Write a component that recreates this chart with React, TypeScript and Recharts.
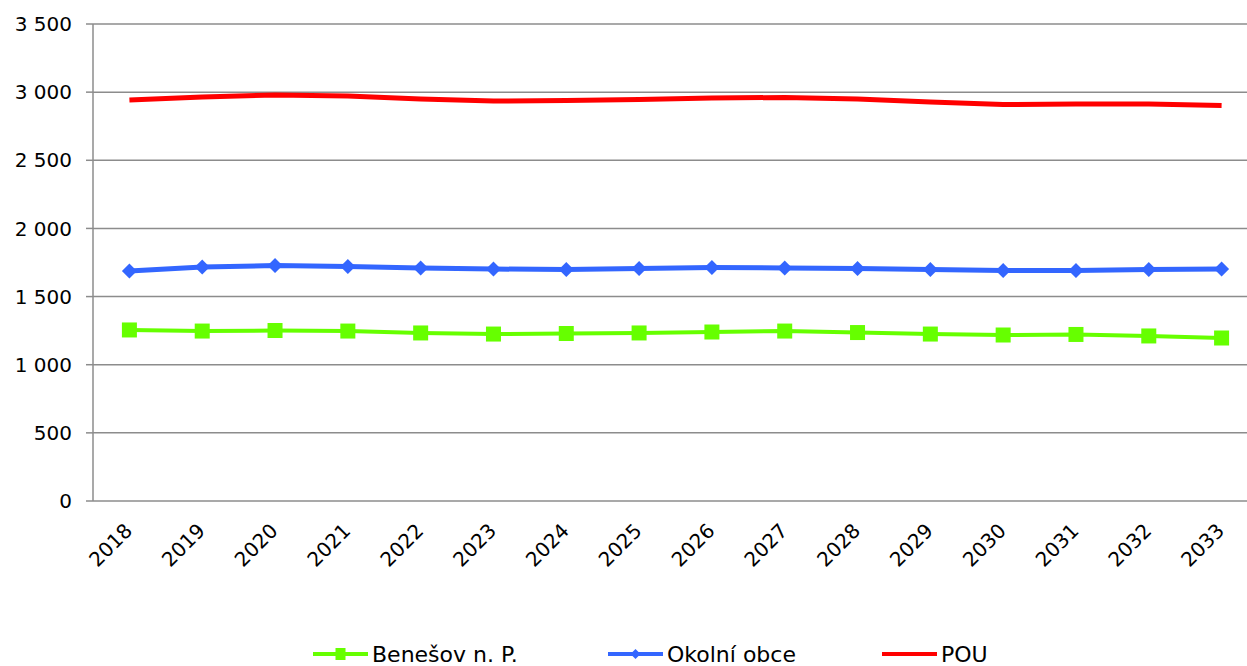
import { LineChart, Line, XAxis, YAxis, CartesianGrid, Legend } from 'recharts';

const years = [2018, 2019, 2020, 2021, 2022, 2023, 2024, 2025, 2026, 2027, 2028, 2029, 2030, 2031, 2032, 2033];
const benesov = [1255, 1247, 1251, 1247, 1233, 1225, 1229, 1233, 1240, 1247, 1236, 1225, 1218, 1222, 1211, 1196];
const okolni = [1688, 1717, 1728, 1721, 1710, 1702, 1699, 1706, 1713, 1710, 1706, 1699, 1691, 1691, 1699, 1702];
const pou = [2942, 2964, 2979, 2972, 2950, 2935, 2939, 2946, 2957, 2961, 2950, 2928, 2909, 2913, 2913, 2902];
const yTicks = [0, 500, 1000, 1500, 2000, 2500, 3000, 3500];

const data = years.map((year, i) => ({ year, benesov: benesov[i], okolni: okolni[i], pou: pou[i] }));
const edges = [...years.map((y) => y - 0.5), years[years.length - 1] + 0.5];

const FONT = '"DejaVu Sans", Verdana, sans-serif';
const GRID = '#8c8c8c';
const GREEN = '#66ff00';
const BLUE = '#3366ff';
const RED = '#ff0000';

const fmt = (v: number) => String(v).replace(/\B(?=(\d{3})+(?!\d))/g, ' ');

const SquareDot = (props: any) => {
  const { cx, cy } = props;
  if (cx == null || cy == null) return null;
  return <rect x={cx - 7.5} y={cy - 7.5} width={15} height={15} fill={GREEN} />;
};

const DiamondDot = (props: any) => {
  const { cx, cy } = props;
  if (cx == null || cy == null) return null;
  return <polygon points={`${cx},${cy - 7.5} ${cx + 7.5},${cy} ${cx},${cy + 7.5} ${cx - 7.5},${cy}`} fill={BLUE} />;
};

const YearTick = (props: any) => {
  const { x, y, payload } = props;
  return (
    <g transform={`translate(${x + 4},${y + 31})`}>
      <text textAnchor="end" transform="rotate(-45)" fontSize={20} fill="#000" fontFamily={FONT}>
        {payload.value}
      </text>
    </g>
  );
};

const legendItems = [
  { name: 'Benešov n. P.', color: GREEN, marker: 'square', width: 295 },
  { name: 'Okolní obce', color: BLUE, marker: 'diamond', width: 274 },
  { name: 'POU', color: RED, marker: 'none', width: 120 },
];

const LegendContent = () => (
  <div style={{ display: 'flex', fontFamily: FONT, fontSize: 22, color: '#000' }}>
    {legendItems.map((it) => (
      <div key={it.name} style={{ width: it.width, display: 'flex', alignItems: 'center', height: 26 }}>
        <svg width={55} height={16} style={{ marginRight: 4, flex: 'none' }}>
          <line x1={0} y1={8} x2={55} y2={8} stroke={it.color} strokeWidth={4} />
          {it.marker === 'square' && <rect x={22.5} y={2} width={10} height={12} fill={it.color} />}
          {it.marker === 'diamond' && <polygon points="27.5,3 32.5,8 27.5,13 22.5,8" fill={it.color} />}
        </svg>
        <span style={{ whiteSpace: 'nowrap' }}>{it.name}</span>
      </div>
    ))}
  </div>
);

export default function App() {
  return (
    <div style={{ position: 'fixed', top: 0, left: 0, width: 1247, height: 666, overflow: 'hidden', background: '#fff' }}>
      <LineChart width={1270} height={666} data={data} margin={{ top: 24, right: 12, bottom: 0, left: 0 }}>
        <CartesianGrid vertical={false} stroke={GRID} strokeWidth={1.5} />
        <XAxis
          xAxisId="edge"
          type="number"
          domain={[edges[0], edges[edges.length - 1]]}
          ticks={edges}
          tickFormatter={() => ''}
          height={0}
          stroke={GRID}
          strokeWidth={1.5}
          tickSize={7}
          allowDataOverflow
        />
        <XAxis
          xAxisId="cat"
          type="number"
          dataKey="year"
          domain={[edges[0], edges[edges.length - 1]]}
          ticks={years}
          interval={0}
          axisLine={false}
          tickLine={false}
          tickSize={0}
          tickMargin={0}
          height={165}
          tick={<YearTick />}
          allowDataOverflow
        />
        <YAxis
          domain={[0, 3500]}
          ticks={yTicks}
          width={93}
          stroke={GRID}
          strokeWidth={1.5}
          tickSize={7}
          tickMargin={14}
          tickFormatter={fmt}
          tick={{ fontSize: 20, fill: '#000', fontFamily: FONT }}
        />
        <Legend
          layout="horizontal"
          verticalAlign="middle"
          align="center"
          wrapperStyle={{ top: 641, left: 313, width: 900 }}
          content={<LegendContent />}
        />
        <Line xAxisId="cat" dataKey="benesov" name="Benešov n. P." stroke={GREEN} strokeWidth={4} dot={<SquareDot />} isAnimationActive={false} />
        <Line xAxisId="cat" dataKey="okolni" name="Okolní obce" stroke={BLUE} strokeWidth={5} dot={<DiamondDot />} isAnimationActive={false} />
        <Line xAxisId="cat" dataKey="pou" name="POU" stroke={RED} strokeWidth={5} dot={false} isAnimationActive={false} />
      </LineChart>
    </div>
  );
}
